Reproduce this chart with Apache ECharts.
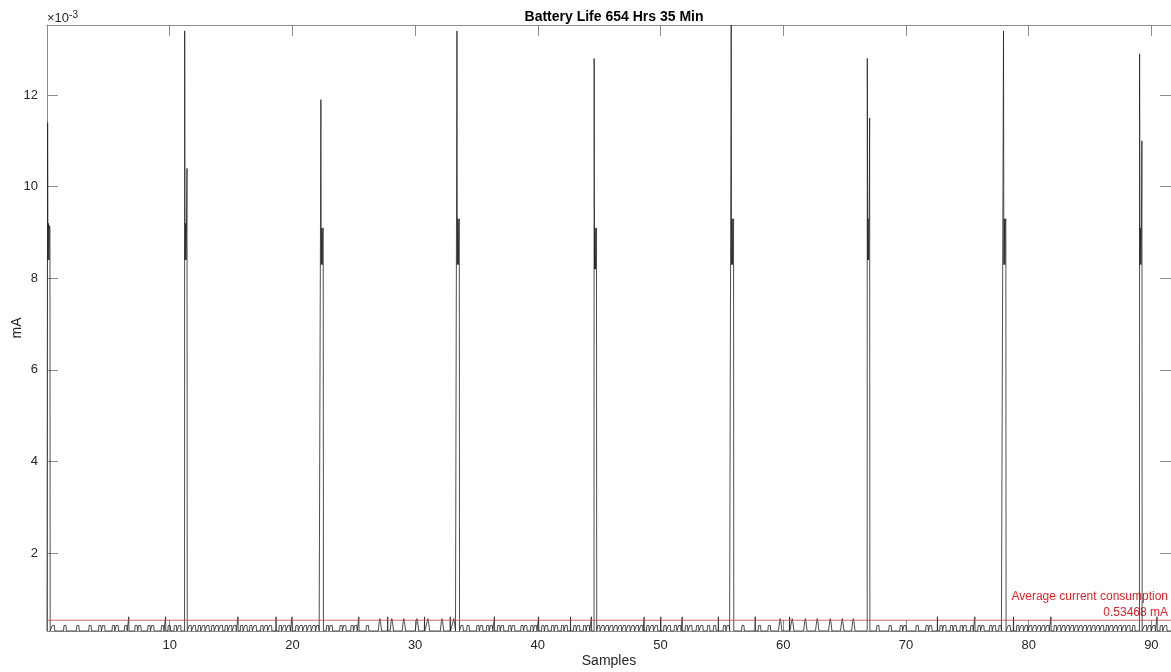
<!DOCTYPE html>
<html><head><meta charset="utf-8">
<script src="https://cdn.jsdelivr.net/npm/echarts@6/dist/echarts.min.js"></script>
<style>html,body{margin:0;padding:0;background:#fff}#c{width:1171px;height:672px}</style>
</head><body><div id="c"></div>
<script>
// ---- data (sample units on x, current in units of 1e-3 on y) ----
const xTickStep = 10;
const yTickStep = 2;
const xMax = 91.6;
const yMin = 0.30;
const yMax = 13.53;
const baseLevel = 0.30;
const averageCurrent = 0.53468;

// large periodic spikes
const spikeX      = [0.05, 11.22, 22.32, 33.41, 44.59, 55.76, 66.85, 77.95, 89.04];
const spikePeak   = [11.4, 13.4, 11.9, 13.4, 12.8, 13.53, 12.8, 13.4, 12.9];
const spikeSecond = [9.1, 10.4, 9.1, 9.3, 9.1, 9.3, 11.5, 9.3, 11.0];
const spikeLow    = [8.4, 8.4, 8.3, 8.3, 8.2, 8.3, 8.4, 8.3, 8.3];
const spikeMid    = [9.2, 9.2, 9.1, 9.3, 9.1, 9.3, 9.3, 9.3, 9.1];

// small rounded baseline pulses (start positions)
const humpX = [
  0.4, 1.35, 2.4, 3.4, 4.2, 4.5, 5.3, 5.6, 6.3, 7.15, 7.45, 8.2, 8.5, 9.3, 9.85, 10.35, 10.7,
  11.55, 11.9, 12.3, 12.65, 13.0, 13.4, 13.75, 14.1, 14.5, 14.85, 15.2, 15.75, 16.1, 16.5, 16.85,
  17.4, 17.75, 18.1, 18.9, 19.25, 19.6, 20.25, 20.6, 20.95, 21.3, 21.65, 21.95,
  22.75, 23.05, 23.85, 24.15, 24.75, 25.05, 26.0,
  33.7, 34.2, 35.0, 35.3, 35.8, 36.1, 36.7, 37.0, 37.6, 37.9, 38.6, 38.9, 39.4, 39.7, 40.3, 40.6,
  41.1, 41.4, 41.9, 42.2, 42.9, 43.2, 43.7, 44.0,
  44.85, 45.2, 45.55, 45.9, 46.25, 46.6, 46.95, 47.3, 47.65, 48.0, 48.35, 48.85, 49.2, 49.55,
  50.25, 50.6, 51.1, 51.45, 52.0, 52.35, 52.9, 53.25, 53.8, 54.3, 55.1, 55.4,
  56.6, 57.95, 58.75,
  67.6, 68.6, 69.5, 69.8, 70.8, 71.6, 71.9, 72.75, 73.05, 73.6, 73.9, 74.4, 74.7, 75.25, 75.85,
  76.15, 76.8, 77.1, 77.55,
  78.3, 79.0, 79.35, 79.7, 80.05, 80.4, 80.75, 81.1, 81.45, 82.05, 82.4, 82.75, 83.1, 83.45, 83.8,
  84.15, 84.5, 84.85, 85.2, 85.55, 85.9, 86.3, 86.65, 87.0, 87.35, 87.7, 88.05, 88.45,
  89.4, 89.75, 90.1, 90.7, 91.05
];
const humpTop = 0.45;

// taller triangular pulses (centres)
const tallX = [27.13, 28.1, 29.08, 30.15, 31.04, 32.19, 33.15,
               59.75, 60.73, 61.8, 62.77, 63.83, 64.81, 65.71];
const tallTop = 0.57;

// thin needles
const needleX = [6.65, 9.65, 15.55, 18.65, 19.95, 25.4, 27.75, 30.75, 32.85,
                 36.45, 40.05, 42.65, 44.35, 48.65, 50.0, 51.75, 54.7, 57.7, 60.5,
                 72.55, 75.6, 78.75, 81.8, 90.45];
const needleTop = 0.61;

// ---- build the trace from the read values ----
function buildTrace() {
  const ev = [];
  humpX.forEach(x => ev.push([x, 'h', 0]));
  tallX.forEach(x => ev.push([x - 0.14, 't', 0]));
  needleX.forEach(x => ev.push([x, 'n', 0]));
  spikeX.forEach((x, i) => ev.push([x - 0.01, 's', i]));
  ev.sort((a, b) => a[0] - b[0]);
  const b = baseLevel;
  const pts = [[0, b]];
  for (const [x, t, i] of ev) {
    if (t === 'h') {
      pts.push([x, b], [x + 0.03, humpTop - 0.03], [x + 0.08, humpTop], [x + 0.15, humpTop],
               [x + 0.2, humpTop - 0.03], [x + 0.23, b]);
    } else if (t === 't') {
      const c = x + 0.14;
      pts.push([c - 0.14, b], [c - 0.05, tallTop - 0.06], [c, tallTop], [c + 0.05, tallTop - 0.06], [c + 0.14, b]);
    } else if (t === 'n') {
      pts.push([x, b], [x + 0.015, needleTop], [x + 0.03, b]);
    } else {
      const c = spikeX[i];
      const lo = spikeLow[i], mid = spikeMid[i];
      pts.push([Math.max(0, c - 0.01), b], [c, spikePeak[i]], [c + 0.03, lo],
               [c + 0.07, mid], [c + 0.11, lo], [c + 0.15, mid - 0.05],
               [c + 0.19, spikeSecond[i]], [c + 0.21, b]);
    }
  }
  pts.push([xMax, b]);
  return pts;
}

const font = '"Liberation Sans", Arial, Helvetica, sans-serif';
const axisGray = '#262626';
const lineGray = '#8c8c8c';
const red = '#d9262b';

const chart = echarts.init(document.getElementById('c'), null, {renderer: 'canvas'});
const axisLineStyle = {show: true, onZero: false, lineStyle: {color: lineGray, width: 1}};
const tickStyle = {show: true, inside: true, length: 11, lineStyle: {color: lineGray, width: 1}};
chart.setOption({
  animation: false,
  backgroundColor: '#fff',
  title: {
    text: 'Battery Life 654 Hrs 35 Min',
    left: 609, top: 5, textAlign: 'center',
    textStyle: {fontFamily: font, fontWeight: 'bold', fontSize: 14, color: '#000'}
  },
  grid: {left: 47, right: 0, top: 25, bottom: 41, containLabel: false, outerBoundsMode: 'none'},
  xAxis: [{
    type: 'value', min: 0, max: xMax, interval: xTickStep, position: 'bottom',
    axisLine: axisLineStyle, axisTick: tickStyle,
    axisLabel: {show: true, showMinLabel: false, showMaxLabel: false, margin: 8, fontSize: 13, fontFamily: font, color: axisGray},
    splitLine: {show: false},
    name: 'Samples', nameLocation: 'middle', nameGap: 23, nameMoveOverlap: false,
    nameTextStyle: {fontSize: 14, fontFamily: font, color: axisGray}
  }, {
    type: 'value', min: 0, max: xMax, interval: xTickStep, position: 'top',
    axisLine: axisLineStyle, axisTick: tickStyle,
    axisLabel: {show: false}, splitLine: {show: false}
  }],
  yAxis: [{
    type: 'value', min: yMin, max: yMax, splitNumber: 6, position: 'left',
    axisLine: axisLineStyle, axisTick: tickStyle,
    axisLabel: {show: true, showMinLabel: false, showMaxLabel: false, margin: 9, fontSize: 13, fontFamily: font, color: axisGray},
    splitLine: {show: false},
    name: 'mA', nameLocation: 'middle', nameGap: 23, nameRotate: 90, nameMoveOverlap: false,
    nameTextStyle: {fontSize: 14, fontFamily: font, color: axisGray}
  }, {
    type: 'value', min: yMin, max: yMax, splitNumber: 6, position: 'right',
    axisLine: axisLineStyle, axisTick: tickStyle,
    axisLabel: {show: false}, splitLine: {show: false}
  }],
  series: [{
    type: 'line', xAxisIndex: 0, yAxisIndex: 0,
    data: buildTrace(), showSymbol: false, symbol: 'none', sampling: null,
    lineStyle: {color: '#222', width: 0.8}, clip: true, z: 2
  }, {
    type: 'line', xAxisIndex: 0, yAxisIndex: 0,
    data: [[0, averageCurrent], [xMax, averageCurrent]], showSymbol: false, symbol: 'none',
    lineStyle: {color: '#cc4444', width: 0.8}, z: 3
  }],
  graphic: [{
    type: 'text', left: 47, top: 10,
    style: {
      text: '×10{s|-3}', fill: axisGray, font: '13px ' + font,
      rich: {s: {fontSize: 10, verticalAlign: 'top', padding: [0, 0, 6, 0], fill: axisGray, fontFamily: font}}
    }
  }, {
    type: 'text', right: 3, top: 589,
    style: {
      text: 'Average current consumption\n' + averageCurrent + ' mA',
      textAlign: 'right', fill: red, font: '12px ' + font, lineHeight: 16
    }
  }]
});
</script>
</body></html>
